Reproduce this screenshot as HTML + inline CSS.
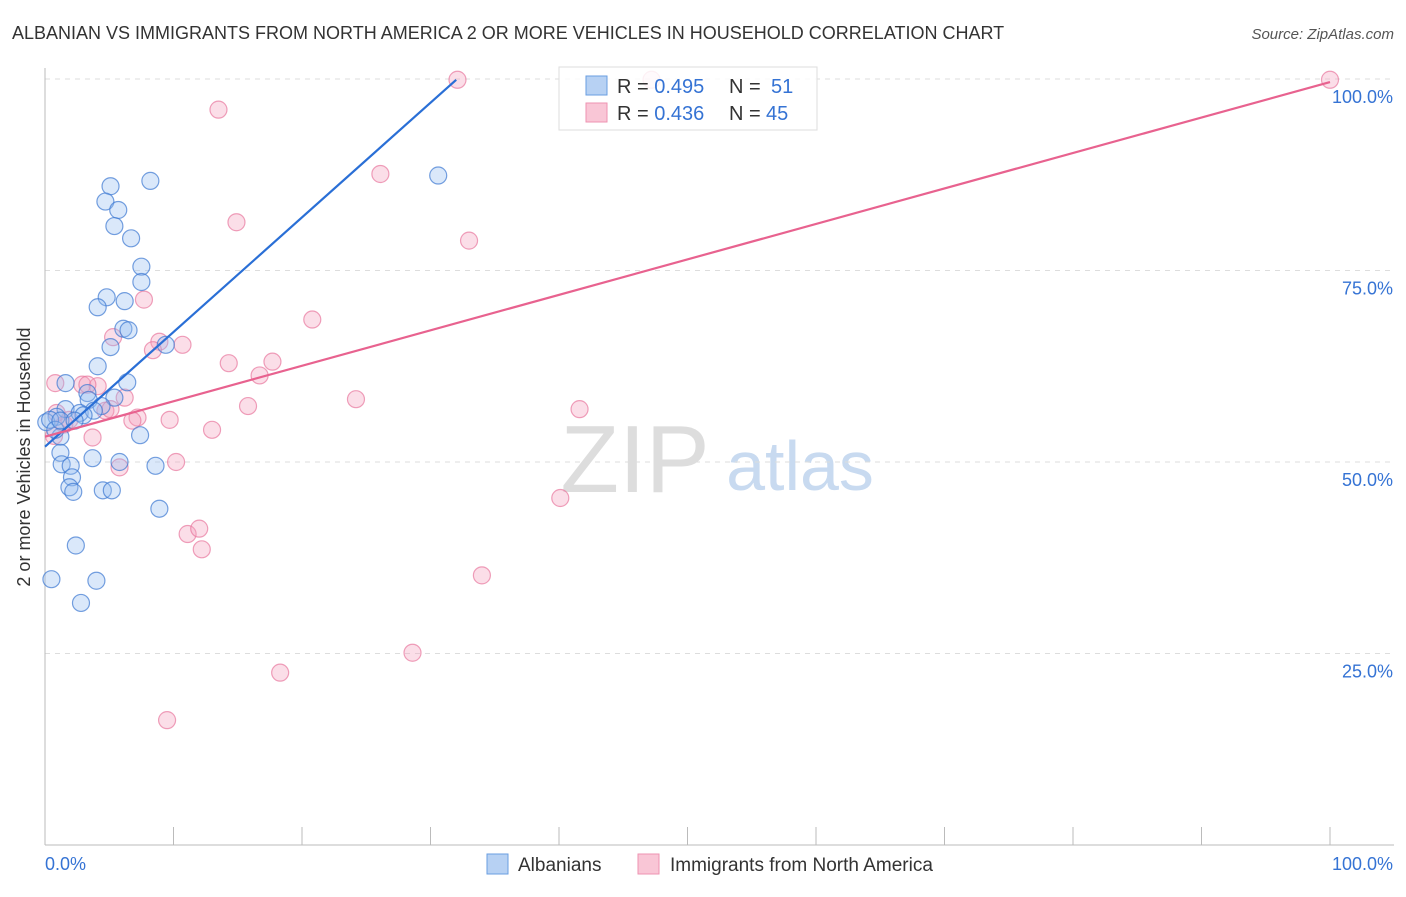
<!DOCTYPE html>
<html><head><meta charset="utf-8"><style>
body{margin:0;background:#fff;font-family:"Liberation Sans",sans-serif;}
svg text{font-family:"Liberation Sans",sans-serif;}
</style></head><body>
<svg id="chart" width="1406" height="892">
<text x="12" y="39" font-size="18" fill="#333">ALBANIAN VS IMMIGRANTS FROM NORTH AMERICA 2 OR MORE VEHICLES IN HOUSEHOLD CORRELATION CHART</text>
<text x="1394" y="39" font-size="15" fill="#555" font-style="italic" text-anchor="end">Source: ZipAtlas.com</text>
<text x="30" y="457" font-size="18" fill="#333" text-anchor="middle" transform="rotate(-90 30 457)">2 or more Vehicles in Household</text>
<text x="635" y="492" font-size="96" fill="#ddd" text-anchor="middle" font-family="Liberation Serif">ZIP</text>
<text x="800" y="490" font-size="70" fill="#c8daf0" text-anchor="middle">atlas</text>
<g id="grid"></g><g id="axes"></g><g id="pts"></g><g id="lines"></g>
<g>
<rect x="559" y="67" width="258" height="63" fill="#fff" fill-opacity="0.85" stroke="#ddd"/>
<rect x="586" y="76" width="21" height="19" fill="#b7d1f3" stroke="#6a9ee0"/>
<rect x="586" y="103" width="21" height="19" fill="#f9c6d6" stroke="#ee93b1"/>
<text x="617" y="93" font-size="20" fill="#333">R = <tspan fill="#3573d4">0.495</tspan><tspan x="729">N = </tspan><tspan x="771" fill="#3573d4">51</tspan></text>
<text x="617" y="120" font-size="20" fill="#333">R = <tspan fill="#3573d4">0.436</tspan><tspan x="729">N = </tspan><tspan x="766" fill="#3573d4">45</tspan></text>
</g>
<g>
<rect x="487" y="854" width="21" height="20" fill="#b7d1f3" stroke="#6a9ee0"/>
<text x="518" y="871" font-size="19" fill="#333">Albanians</text>
<rect x="638" y="854" width="21" height="20" fill="#f9c6d6" stroke="#ee93b1"/>
<text x="670" y="871" font-size="19" fill="#333">Immigrants from North America</text>
</g>
</svg>
<script>
const yTicks=[25,50,75,100];
const xTickLabels=["0.0%","100.0%"];
const blueX=[5.1,8.2,4.7,5.7,5.4,6.7,7.5,7.5,4.8,6.2,4.1,6.1,6.5,5.1,9.4,4.1,6.4,1.6,3.3,5.4,3.4,4.4,1.6,2.7,3.8,0.9,0.1,0.4,1.2,7.4,1.2,3.7,1.3,2.0,5.8,8.6,2.1,1.9,2.2,4.5,5.2,8.9,2.4,0.5,4.0,2.8,30.6,0.8,1.2,3.0,2.3];
const blueY=[86.0,86.7,84.0,82.9,80.8,79.2,75.5,73.5,71.5,71.0,70.2,67.4,67.2,65.0,65.3,62.5,60.4,60.3,59.0,58.4,58.1,57.3,56.9,56.4,56.7,55.9,55.2,55.5,53.3,53.5,51.2,50.5,49.7,49.5,50.0,49.5,48.0,46.7,46.1,46.3,46.3,43.9,39.1,34.7,34.5,31.6,87.4,54.2,55.4,56.1,55.4];
const pinkX=[32.1,47.2,100,13.5,26.1,14.9,33.0,7.7,20.8,5.3,8.9,10.7,8.4,14.3,17.7,16.7,0.8,2.9,4.1,24.2,6.2,15.8,41.6,0.9,7.2,4.7,6.8,9.7,13.0,1.5,3.7,0.7,10.2,5.8,40.1,11.1,12.0,12.2,34.0,28.6,18.3,9.5,3.3,5.1,1.9];
const pinkY=[99.9,99.9,99.9,96.0,87.6,81.3,78.9,71.2,68.6,66.3,65.7,65.3,64.6,62.9,63.1,61.3,60.3,60.1,59.9,58.2,58.4,57.3,56.9,56.4,55.8,56.7,55.4,55.5,54.2,54.9,53.2,53.4,50.0,49.3,45.3,40.6,41.3,38.6,35.2,25.1,22.5,16.3,60.1,56.9,55.5];
const blueTrendX=[0,32.0], blueTrendY=[52.0,99.9];
const pinkTrendX=[0,100], pinkTrendY=[53.3,99.6];
const X0=45,X1=1330,Y0=845,Y1=79;
const sx=v=>X0+(X1-X0)*v/100, sy=v=>Y0-(Y0-Y1)*v/100;
const NS="http://www.w3.org/2000/svg";
function mk(t,a,p){const e=document.createElementNS(NS,t);for(const k in a)e.setAttribute(k,a[k]);p.appendChild(e);return e;}
const grid=document.getElementById('grid'),axes=document.getElementById('axes');
yTicks.forEach(v=>{
const l=mk('line',{x1:X0,x2:1394,y1:sy(v),y2:sy(v),stroke:'#ddd','stroke-dasharray':'5,5'},grid);


const t=mk('text',{x:1393,y:sy(v)+24,'font-size':18,fill:'#3573d4','text-anchor':'end'},axes);
t.textContent=v.toFixed(1)+'%';


});
mk('line',{x1:X0,x2:X0,y1:68,y2:Y0,stroke:'#bbb'},axes);
mk('line',{x1:X0,x2:1394,y1:Y0,y2:Y0,stroke:'#bbb'},axes);
for(let i=1;i<=10;i++){mk('line',{x1:sx(i*10),x2:sx(i*10),y1:827,y2:Y0,stroke:'#bbb'},axes);}
const tl=mk('text',{x:45,y:870,'font-size':18,fill:'#3573d4'},axes);tl.textContent=xTickLabels[0];


const tr=mk('text',{x:1393,y:870,'font-size':18,fill:'#3573d4','text-anchor':'end'},axes);tr.textContent=xTickLabels[1];


const pts=document.getElementById('pts');
pinkX.forEach((x,i)=>{const c=mk('circle',{cx:sx(x),cy:sy(pinkY[i]),r:8.5,fill:'rgba(244,160,188,0.35)',stroke:'rgba(232,120,158,0.7)','stroke-width':1.2},pts);

});
blueX.forEach((x,i)=>{const c=mk('circle',{cx:sx(x),cy:sy(blueY[i]),r:8.5,fill:'rgba(150,190,240,0.35)',stroke:'rgba(60,120,210,0.7)','stroke-width':1.2},pts);

});
const lines=document.getElementById('lines');
const bl=mk('line',{x1:sx(blueTrendX[0]),y1:sy(blueTrendY[0]),x2:sx(blueTrendX[1]),y2:sy(blueTrendY[1]),stroke:'#2a6fd6','stroke-width':2.2},lines);


const pl=mk('line',{x1:sx(pinkTrendX[0]),y1:sy(pinkTrendY[0]),x2:sx(pinkTrendX[1]),y2:sy(pinkTrendY[1]),stroke:'#e8628f','stroke-width':2.2},lines);


</script>
</body></html>
